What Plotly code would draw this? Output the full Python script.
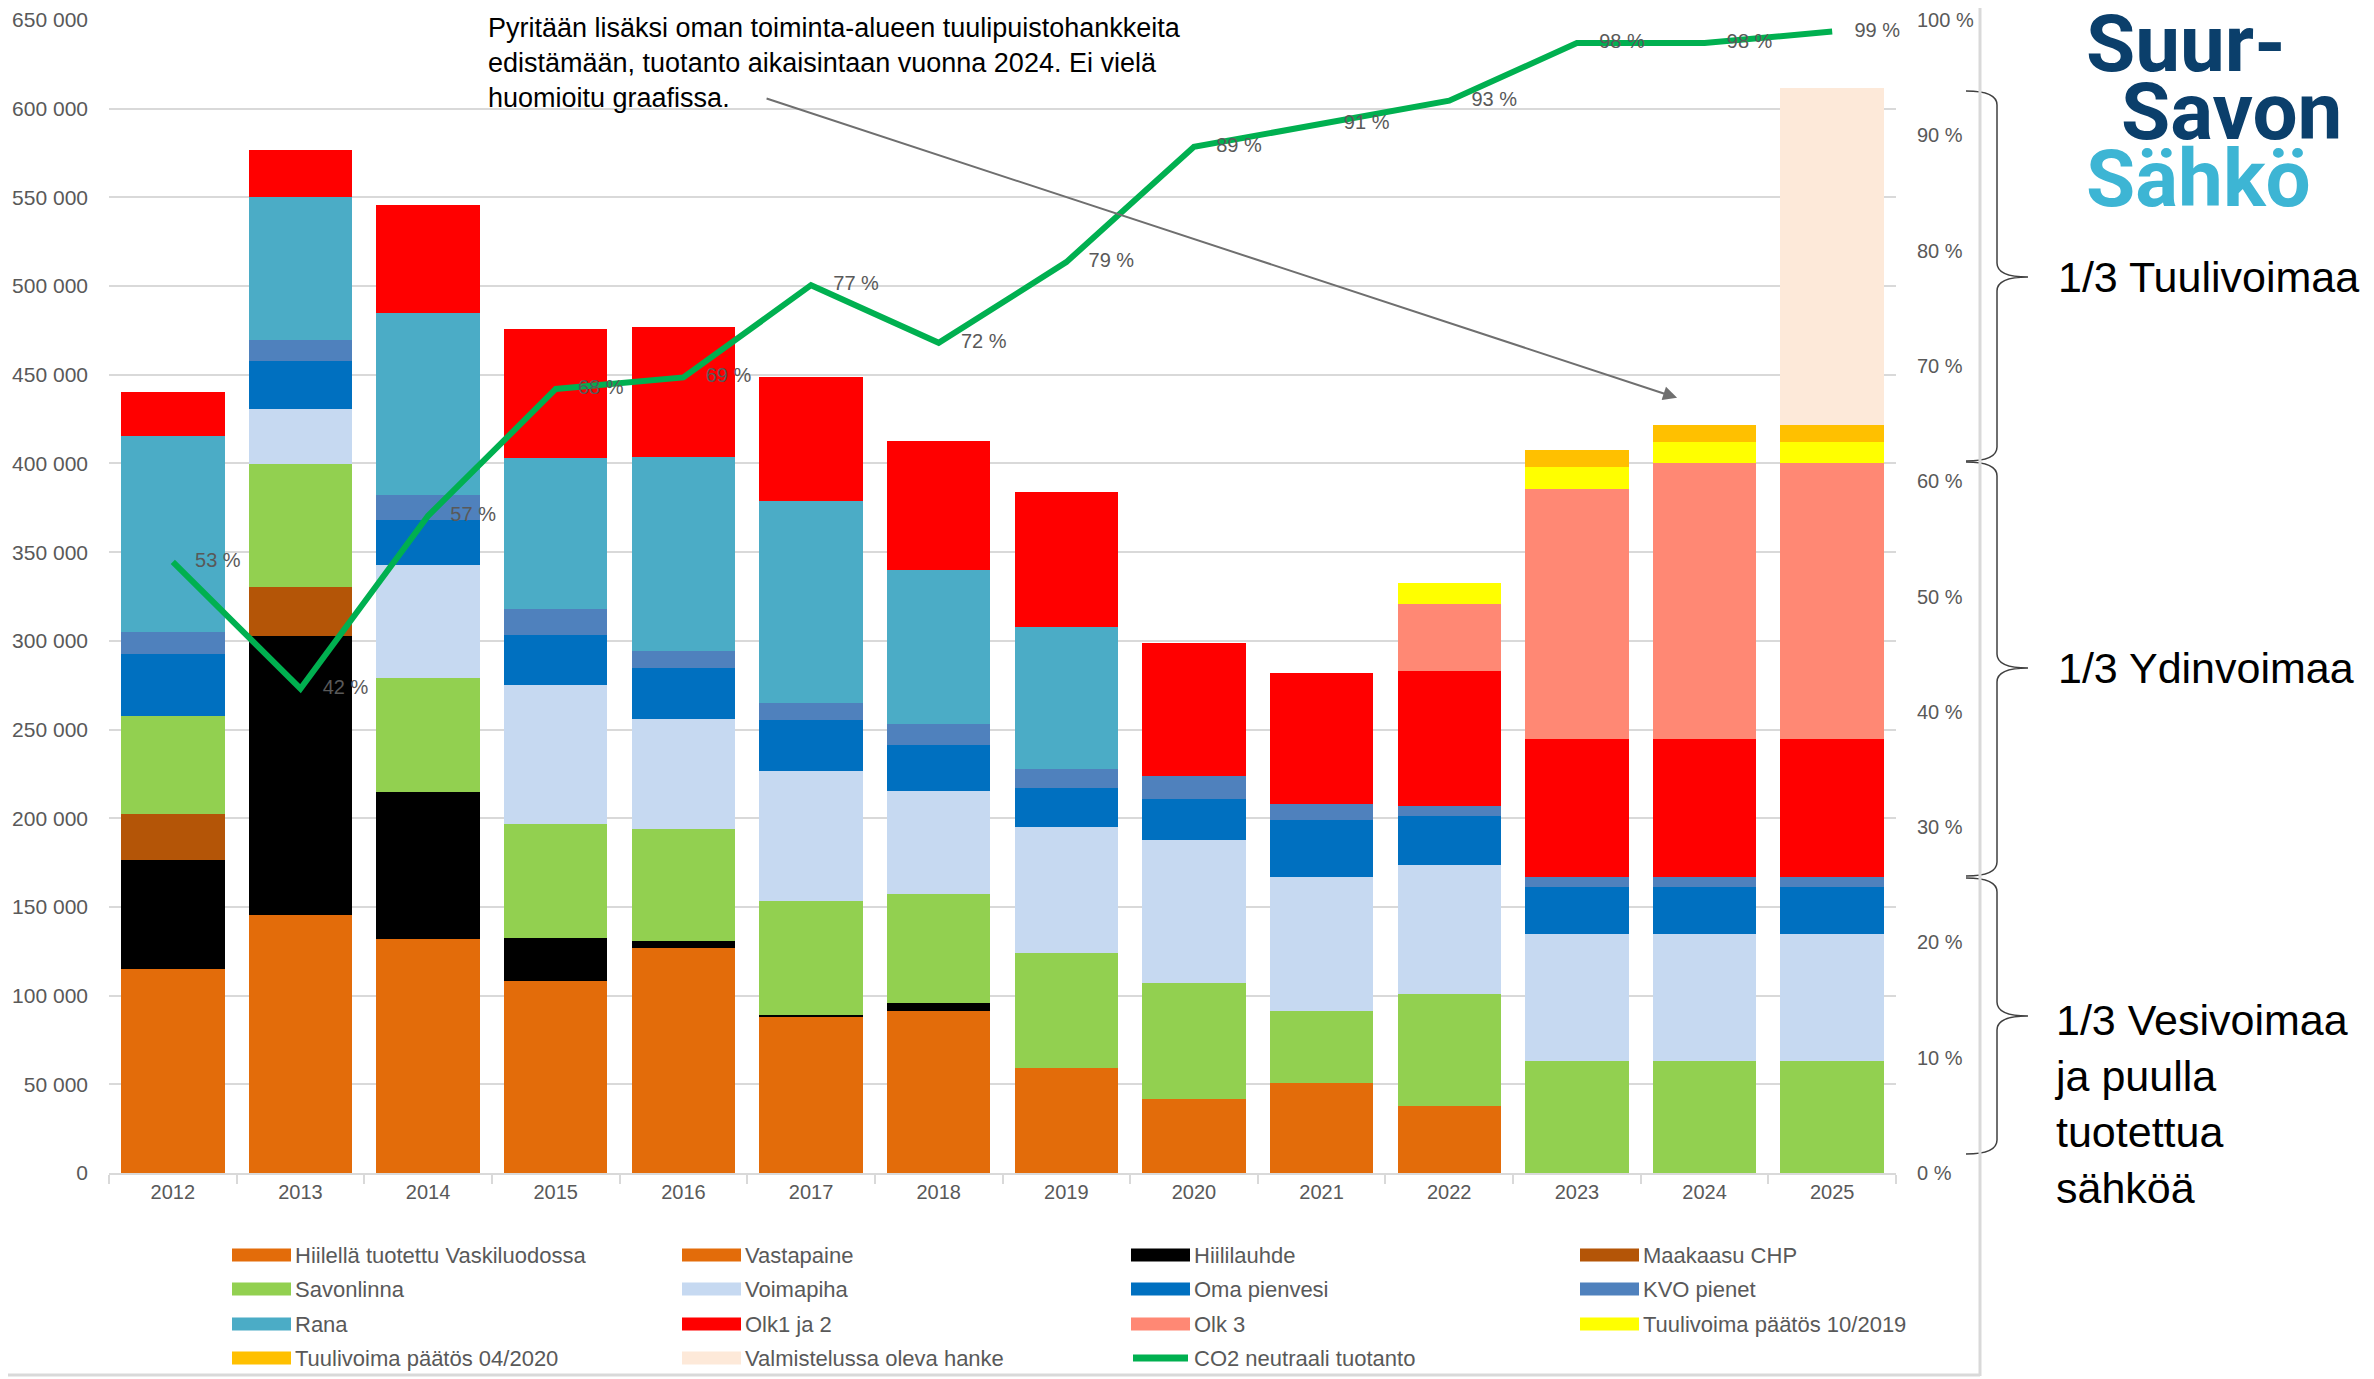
import plotly.graph_objects as go

# data (MWh per year, CO2-neutral share in %)
years = ["2012", "2013", "2014", "2015", "2016", "2017", "2018",
         "2019", "2020", "2021", "2022", "2023", "2024", "2025"]

hiilella_vaskiluoto = [0, 0, 0, 0, 0, 0, 0, 0, 0, 0, 0, 0, 0, 0]
vastapaine = [115000, 145500, 132000, 108000, 127000, 88000, 91500,
              59000, 42000, 50500, 37500, 0, 0, 0]
hiililauhde = [61500, 157000, 83000, 24500, 4000, 1000, 4500,
               0, 0, 0, 0, 0, 0, 0]
maakaasu_chp = [26000, 28000, 0, 0, 0, 0, 0, 0, 0, 0, 0, 0, 0, 0]
savonlinna = [55000, 69000, 64000, 64500, 63000, 64500, 61500,
              65000, 65000, 41000, 63500, 63000, 63000, 63000]
voimapiha = [0, 31000, 63500, 78000, 62000, 73000, 58000,
             71000, 80500, 75500, 72500, 72000, 72000, 72000]
oma_pienvesi = [35000, 27500, 25500, 28500, 28500, 29000, 26000,
                22000, 23500, 32000, 28000, 26500, 26500, 26500]
kvo_pienet = [12500, 11500, 14000, 14500, 10000, 9500, 11500,
              11000, 13000, 9000, 5500, 5500, 5500, 5500]
rana = [110500, 81000, 103000, 85000, 109000, 114000, 87000,
        80000, 0, 0, 0, 0, 0, 0]
olk1_2 = [25000, 26000, 60500, 73000, 73500, 70000, 72500,
          76000, 75000, 74000, 76000, 77500, 77500, 77500]
olk3 = [0, 0, 0, 0, 0, 0, 0, 0, 0, 0, 37500, 141000, 155500, 155500]
tuuli_10_2019 = [0, 0, 0, 0, 0, 0, 0, 0, 0, 0, 12000, 12500, 12000, 12000]
tuuli_04_2020 = [0, 0, 0, 0, 0, 0, 0, 0, 0, 0, 0, 9500, 9500, 9500]
valmistelussa = [0, 0, 0, 0, 0, 0, 0, 0, 0, 0, 0, 0, 0, 190000]
co2_neutraali = [53, 42, 57, 68, 69, 77, 72, 79, 89, 91, 93, 98, 98, 99]

series = [
    ("Hiilellä tuotettu Vaskiluodossa", hiilella_vaskiluoto, "#E36C0A"),
    ("Vastapaine", vastapaine, "#E36C0A"),
    ("Hiililauhde", hiililauhde, "#000000"),
    ("Maakaasu CHP", maakaasu_chp, "#B45507"),
    ("Savonlinna", savonlinna, "#92D050"),
    ("Voimapiha", voimapiha, "#C6D9F1"),
    ("Oma pienvesi", oma_pienvesi, "#0070C0"),
    ("KVO pienet", kvo_pienet, "#4F81BD"),
    ("Rana", rana, "#4BACC6"),
    ("Olk1 ja 2", olk1_2, "#FF0000"),
    ("Olk 3", olk3, "#FF8874"),
    ("Tuulivoima päätös 10/2019", tuuli_10_2019, "#FFFF00"),
    ("Tuulivoima päätös 04/2020", tuuli_04_2020, "#FFC000"),
    ("Valmistelussa oleva hanke", valmistelussa, "#FDE9D9"),
]
co2_name = "CO2 neutraali tuotanto"
co2_color = "#00B050"

# the page body adds an 8px offset, so the figure is 8px smaller than the
# window and margins are given so the plot lands at page x 109..1896, y 20..1173
W, H = 2366, 1371
PX0, PX1, PY0, PY1 = 109, 1896, 20, 1173
ML, MT = PX0 - 8, PY0 - 8
MR, MB = W + 8 - PX1, H + 8 - PY1


def px(x):
    return (x - PX0) / (PX1 - PX0)


def py(y):
    return (PY1 - y) / (PY1 - PY0)


fig = go.Figure()

for name, vals, col in series:
    fig.add_trace(go.Bar(x=years, y=vals, name=name, marker_color=col,
                         marker_line_width=0, showlegend=False))

fig.add_trace(go.Scatter(
    x=years, y=co2_neutraali, name=co2_name, yaxis="y2",
    mode="lines+markers+text", showlegend=False, cliponaxis=False,
    line=dict(color=co2_color, width=6),
    marker=dict(size=34, color="rgba(0,0,0,0)"),
    text=[f"{v} %" for v in co2_neutraali],
    textposition="middle right",
    textfont=dict(size=20, color="#595959"),
))


def brace(yt, ym, yb, x0=1966, x1=1997, x2=2028, r=14):
    pts = [
        f"M{px(x0)},{py(yt)}",
        f"Q{px(x1)},{py(yt)} {px(x1)},{py(yt + r)}",
        f"L{px(x1)},{py(ym - r)}",
        f"Q{px(x1)},{py(ym)} {px(x2)},{py(ym)}",
        f"Q{px(x1)},{py(ym)} {px(x1)},{py(ym + r)}",
        f"L{px(x1)},{py(yb - r)}",
        f"Q{px(x1)},{py(yb)} {px(x0)},{py(yb)}",
    ]
    return dict(type="path", xref="paper", yref="paper", path=" ".join(pts),
                line=dict(color="#404040", width=1.5))


shapes = [
    brace(91, 277, 461),
    brace(462, 668, 876),
    brace(878, 1016, 1154),
    # chart frame edges
    dict(type="line", xref="paper", yref="paper", x0=px(1980), x1=px(1980),
         y0=py(8), y1=py(1376), line=dict(color="#D9D9D9", width=3)),
    dict(type="line", xref="paper", yref="paper", x0=px(8), x1=px(1980),
         y0=py(1375), y1=py(1375), line=dict(color="#D9D9D9", width=3)),
]

annotations = [
    dict(xref="paper", yref="paper", x=px(486), y=py(63), xanchor="left",
         yanchor="middle", align="left", showarrow=False,
         text="Pyritään lisäksi oman toiminta-alueen tuulipuistohankkeita<br>"
              "edistämään, tuotanto aikaisintaan vuonna 2024. Ei vielä<br>"
              "huomioitu graafissa.",
         font=dict(size=27, color="#000000")),
    dict(x=11.785, y=437000, ax=4.64, ay=606000, axref="x", ayref="y",
         xref="x", yref="y", text="", showarrow=True, arrowhead=2,
         arrowsize=1.4, arrowwidth=2, arrowcolor="#6F6F6F"),
    dict(xref="paper", yref="paper", x=px(2056), y=py(277), xanchor="left",
         yanchor="middle", showarrow=False, text="1/3 Tuulivoimaa",
         font=dict(size=43, color="#000000")),
    dict(xref="paper", yref="paper", x=px(2056), y=py(668), xanchor="left",
         yanchor="middle", showarrow=False, text="1/3 Ydinvoimaa",
         font=dict(size=43, color="#000000")),
    dict(xref="paper", yref="paper", x=px(2052), y=py(1104), xanchor="left",
         yanchor="middle", align="left", showarrow=False,
         text="1/3 Vesivoimaa<br>ja puulla<br>tuotettua<br>sähköä",
         font=dict(size=43, color="#000000")),
    # logo
    dict(xref="paper", yref="paper", x=px(2084), y=py(44), xanchor="left",
         yanchor="middle", showarrow=False, text="<b>Suur-</b>",
         font=dict(size=80, color="#0B3F6B", family="Roboto")),
    dict(xref="paper", yref="paper", x=px(2119), y=py(112), xanchor="left",
         yanchor="middle", showarrow=False, text="<b>Savon</b>",
         font=dict(size=80, color="#0B3F6B", family="Roboto")),
    dict(xref="paper", yref="paper", x=px(2084), y=py(179), xanchor="left",
         yanchor="middle", showarrow=False, text="<b>Sähkö</b>",
         font=dict(size=80, color="#3DB5D4", family="Roboto")),
]

# legend drawn as 4 columns x 4 rows below the chart
legend_cols = [232, 682, 1131, 1580]
legend_rows = [1255, 1289, 1324, 1358]
entries = [(n, c) for n, _, c in series] + [(co2_name, co2_color)]
for i, (name, col) in enumerate(entries):
    x0 = legend_cols[i % 4]
    yc = legend_rows[i // 4]
    if name == co2_name:
        shapes.append(dict(type="line", xref="paper", yref="paper",
                           x0=px(x0 + 2), x1=px(x0 + 57), y0=py(yc), y1=py(yc),
                           line=dict(color=col, width=7)))
    else:
        shapes.append(dict(type="rect", xref="paper", yref="paper",
                           x0=px(x0), x1=px(x0 + 59), y0=py(yc - 6.5),
                           y1=py(yc + 6.5), fillcolor=col, line_width=0))
    annotations.append(dict(xref="paper", yref="paper", x=px(x0 + 61),
                            y=py(yc), xanchor="left", yanchor="middle",
                            showarrow=False, text=name,
                            font=dict(size=22, color="#595959")))

fig.update_layout(
    width=W, height=H,
    margin=dict(l=ML, r=MR, t=MT, b=MB, autoexpand=False),
    template="none",
    paper_bgcolor="white", plot_bgcolor="white",
    barmode="stack", bargap=0.19,
    separators=", ",
    showlegend=False,
    font=dict(family="Liberation Sans, Arial", size=20, color="#595959"),
    xaxis=dict(type="category", range=[-0.5, 13.5], showgrid=False,
               showline=True, linecolor="#D9D9D9", linewidth=2,
               ticks="outside", tickson="boundaries", ticklen=9,
               tickcolor="#D9D9D9", tickwidth=2, tickfont=dict(size=20)),
    yaxis=dict(range=[0, 650000], dtick=50000, tickformat=",d",
               showgrid=True, gridcolor="#D9D9D9", gridwidth=2,
               zeroline=False, showline=False, ticks="",
               tickfont=dict(size=21), ticklabelstandoff=20),
    yaxis2=dict(range=[0, 100], dtick=10, ticksuffix=" %", overlaying="y",
                side="right", showgrid=False, zeroline=False,
                showline=False, ticks="", tickfont=dict(size=20),
                ticklabelstandoff=20),
    shapes=shapes,
    annotations=annotations,
)

fig.write_html("out.html")
